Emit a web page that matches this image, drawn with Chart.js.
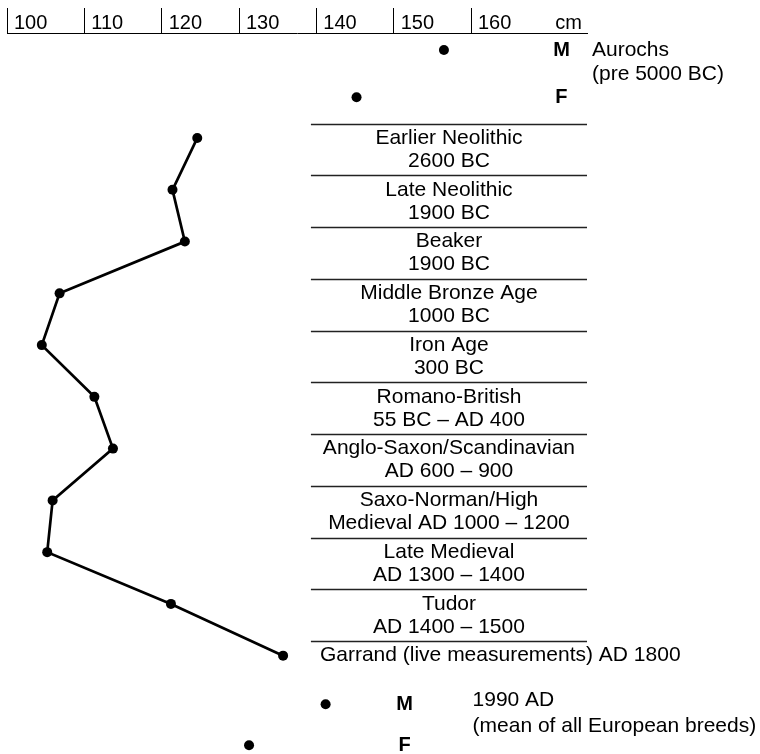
<!DOCTYPE html>
<html>
<head>
  <meta charset="UTF-8">
  <title>Cattle withers height through time</title>
  <script src="https://cdn.jsdelivr.net/npm/chart.js@4.4.1/dist/chart.umd.min.js"></script>
  <style>
    html, body { margin: 0; padding: 0; background: #fff; }
  </style>
</head>
<body>
<canvas id="canvas" width="760" height="754"></canvas>
<script>
// axis ticks (cm), 170 shows the unit instead
const tickValues = [100, 110, 120, 130, 140, 150, 160, 170];

// archaeological periods, top to bottom, with mean withers height (cm)
const periodLabels = [
  ['Earlier Neolithic', '2600 BC'],
  ['Late Neolithic', '1900 BC'],
  ['Beaker', '1900 BC'],
  ['Middle Bronze Age', '1000 BC'],
  ['Iron Age', '300 BC'],
  ['Romano-British', '55 BC \u2013 AD 400'],
  ['Anglo-Saxon/Scandinavian', 'AD 600 \u2013 900'],
  ['Saxo-Norman/High', 'Medieval AD 1000 \u2013 1200'],
  ['Late Medieval', 'AD 1300 \u2013 1400'],
  ['Tudor', 'AD 1400 \u2013 1500']
];
const garrandLabel = 'Garrand (live measurements) AD 1800';
const periodHeights = [124.6, 121.4, 123.0, 106.8, 104.5, 111.3, 113.7, 105.9, 105.2, 121.2, 135.7];

// aurochs and modern breeds, male / female
const sexes = ['M', 'F'];
const aurochsHeights = [156.5, 145.2];
const aurochsRows = [-1.70, -0.79];
const aurochsLabel = ['Aurochs', '(pre 5000 BC)'];
const modernHeights = [141.2, 131.3];
const modernRows = [10.94, 11.73];
const modernLabel = ['1990 AD', '(mean of all European breeds)'];

const FONT = '"Liberation Sans", Arial, Helvetica, sans-serif';

const annotate = {
  id: 'annotate',
  afterDatasetsDraw(chart) {
    const {ctx, chartArea, scales: {x, y}} = chart;
    const left = x.getPixelForValue(139.3);
    const right = chartArea.right;
    const mid = (left + right) / 2;
    ctx.save();

    // rules between the periods
    ctx.strokeStyle = '#222';
    ctx.lineWidth = 1.3;
    for (let i = 0; i <= periodLabels.length; i++) {
      const py = Math.round(y.getPixelForValue(i - 0.28)) + 0.5;
      ctx.beginPath();
      ctx.moveTo(left, py);
      ctx.lineTo(right, py);
      ctx.stroke();
    }

    ctx.fillStyle = '#000';
    ctx.font = '21px ' + FONT;
    ctx.textBaseline = 'middle';
    ctx.textAlign = 'center';
    periodLabels.forEach((lines, i) => {
      const py = y.getPixelForValue(i);
      lines.forEach((t, j) => ctx.fillText(t, mid, py + j * 23));
    });

    ctx.textAlign = 'left';
    ctx.fillText(garrandLabel, left + 9, y.getPixelForValue(periodLabels.length));

    // aurochs notes
    const ay = y.getPixelForValue(aurochsRows[0]);
    aurochsLabel.forEach((t, j) => ctx.fillText(t, right + 5, ay + j * 24));
    // modern notes
    const my = y.getPixelForValue(modernRows[0]) - 4;
    modernLabel.forEach((t, j) => ctx.fillText(t, x.getPixelForValue(160.2), my + j * 26));

    ctx.font = 'bold 20px ' + FONT;
    ctx.textAlign = 'center';
    sexes.forEach((s, i) => {
      ctx.fillText(s, x.getPixelForValue(171.7), y.getPixelForValue(aurochsRows[i]));
      ctx.fillText(s, x.getPixelForValue(151.4), y.getPixelForValue(modernRows[i]));
    });
    ctx.restore();
  }
};

const dot = {
  showLine: false,
  pointRadius: 5,
  pointHoverRadius: 5,
  pointBorderWidth: 0,
  pointBackgroundColor: '#000',
  borderColor: '#000'
};

new Chart(document.getElementById('canvas').getContext('2d'), {
  type: 'scatter',
  data: {
    datasets: [
      Object.assign({}, dot, {
        label: 'Periods',
        showLine: true,
        borderWidth: 2.7,
        data: periodHeights.map((h, i) => ({x: h, y: i}))
      }),
      Object.assign({}, dot, {
        label: 'Aurochs',
        data: aurochsHeights.map((h, i) => ({x: h, y: aurochsRows[i]}))
      }),
      Object.assign({}, dot, {
        label: '1990 AD',
        data: modernHeights.map((h, i) => ({x: h, y: modernRows[i]}))
      })
    ]
  },
  options: {
    responsive: false,
    animation: false,
    layout: {autoPadding: false, padding: {left: 7, right: 173, top: 0, bottom: 0}},
    plugins: {
      legend: {display: false},
      tooltip: {enabled: false}
    },
    scales: {
      x: {
        type: 'linear',
        position: 'top',
        min: 100,
        max: 175,
        afterBuildTicks: s => { s.ticks = tickValues.map(v => ({value: v})); },
        afterFit: s => { s.height = 33; },
        border: {display: true, color: '#000', width: 1},
        grid: {
          drawOnChartArea: false,
          drawTicks: true,
          tickLength: 25,
          lineWidth: 1,
          color: c => (c.tick && c.tick.value === 170) ? 'rgba(0,0,0,0)' : '#000'
        },
        ticks: {
          align: 'start',
          labelOffset: 7,
          padding: -27,
          color: '#000',
          font: {family: FONT, size: 20},
          callback: v => v === 170 ? 'cm' : String(v)
        }
      },
      y: {
        type: 'linear',
        display: false,
        reverse: true,
        min: -2.03,
        max: 11.9
      }
    }
  },
  plugins: [annotate]
});
</script>
</body>
</html>
